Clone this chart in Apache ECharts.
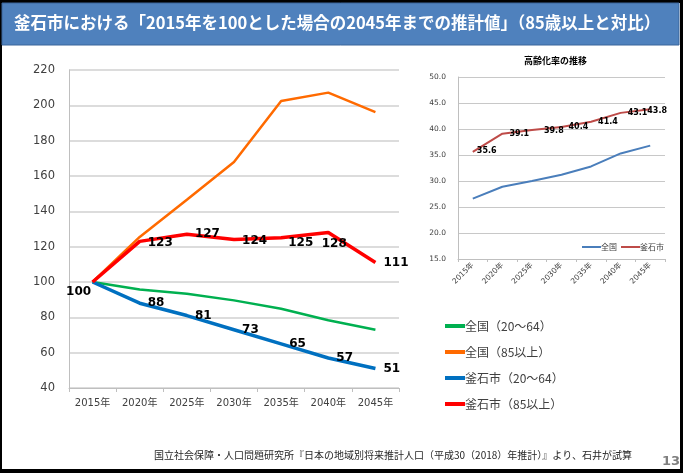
<!DOCTYPE html>
<html>
<head>
<meta charset="utf-8">
<script src="https://cdn.jsdelivr.net/npm/echarts@6/dist/echarts.min.js"></script>
<style>
html, body { margin: 0; padding: 0; background: #fff; }
#chart { width: 683px; height: 473px; }
</style>
</head>
<body>
<div id="chart"></div>
<script>
const years = ['2015年', '2020年', '2025年', '2030年', '2035年', '2040年', '2045年']

// index, 2015 = 100
const zenkokuWorking = [100, 95.7, 93.4, 89.6, 84.9, 78.3, 73.0]
const zenkokuOld = [100, 125.5, 146.6, 167.9, 202.5, 207.2, 196.2]
const kamaishiWorking = [100, 88, 81, 73, 65, 57, 51]
const kamaishiOld = [100, 123, 127, 124, 125, 128, 111]

// aging rate (%)
const agingZenkoku = [26.6, 28.9, 30.0, 31.2, 32.8, 35.3, 36.8]
const agingKamaishi = [35.6, 39.1, 39.8, 40.4, 41.4, 43.1, 43.8]

const titleText = '釜石市における「2015年を100とした場合の2045年までの推計値」（85歳以上と対比）'
const subTitle = '高齢化率の推移'
const sourceText = '国立社会保障・人口問題研究所『日本の地域別将来推計人口（平成30（2018）年推計）』より、石井が試算'

const font = '"DejaVu Sans", "Noto Sans CJK JP", sans-serif'
const jpFont = '"Noto Sans CJK JP", sans-serif'

const bigLabel = { show: true, position: 'right', distance: 8, color: '#000', fontWeight: 'bold', fontSize: 12, fontFamily: font }
const smallLabel = { show: true, position: 'right', distance: 7, color: '#000', fontWeight: 'bold', fontSize: 8, fontFamily: font }

function labelled(values, base, overrides) {
  return values.map((v, i) => {
    const o = overrides[i]
    if (o === null) return { value: v, label: { show: false } }
    return o ? { value: v, label: Object.assign({}, base, o) } : v
  })
}

const chart = echarts.init(document.getElementById('chart'), null, { renderer: 'canvas' })

chart.setOption({
  backgroundColor: '#000',
  animation: false,
  textStyle: { fontFamily: font },
  graphic: [
    { type: 'rect', z: -10, shape: { x: 2, y: 3, width: 678, height: 466 }, style: { fill: '#fff' } },
    { type: 'rect', z: -9, shape: { x: 2, y: 3, width: 677, height: 42 }, style: { fill: '#4f81bd', stroke: '#3a659a', lineWidth: 1 } },
    { type: 'text', left: 14, top: 14, style: { text: titleText, fill: '#fff', font: 'bold 16.5px ' + jpFont } },
    { type: 'text', left: 154, top: 450, style: { text: sourceText, fill: '#262626', font: '10px ' + jpFont } },
    { type: 'text', left: 662, top: 455, style: { text: '13', fill: '#7f7f7f', font: 'bold 13px ' + font } },
    { type: 'text', left: 524, top: 56, style: { text: subTitle, fill: '#000', font: 'bold 9px ' + jpFont } }
  ],
  legend: [
    {
      data: ['全国（20～64）', '全国（85以上）', '釜石市（20～64）', '釜石市（85以上）'],
      orient: 'vertical',
      left: 440,
      top: 314,
      itemGap: 12,
      itemWidth: 20,
      itemHeight: 4,
      icon: 'rect',
      textStyle: { fontSize: 12, color: '#404040', fontFamily: jpFont, lineHeight: 14, padding: [0, 0, 0, -5] }
    },
    {
      data: ['全国', '釜石市'],
      orient: 'horizontal',
      left: 577,
      top: 238,
      itemGap: 4,
      itemWidth: 19,
      itemHeight: 2,
      icon: 'rect',
      textStyle: { fontSize: 8, color: '#404040', fontFamily: jpFont, padding: [0, 0, 0, -5] }
    }
  ],
  grid: [
    { left: 69, right: 284, top: 70, bottom: 85 },
    { left: 458, right: 18, top: 77, bottom: 214 }
  ],
  xAxis: [
    {
      gridIndex: 0,
      type: 'category',
      data: years,
      boundaryGap: true,
      axisLine: { lineStyle: { color: '#bfbfbf' } },
      axisTick: { show: true, length: 4, lineStyle: { color: '#bfbfbf' } },
      axisLabel: { color: '#404040', fontSize: 10, margin: 10, fontFamily: font, interval: 0 }
    },
    {
      gridIndex: 1,
      type: 'category',
      data: years,
      boundaryGap: true,
      axisLine: { lineStyle: { color: '#bfbfbf' } },
      axisTick: { show: true, length: 3, lineStyle: { color: '#bfbfbf' } },
      axisLabel: { color: '#404040', fontSize: 7.5, rotate: 45, margin: 5, fontFamily: font, interval: 0 }
    }
  ],
  yAxis: [
    {
      gridIndex: 0,
      type: 'value',
      min: 40,
      max: 220,
      interval: 20,
      axisLine: { show: true, lineStyle: { color: '#bfbfbf' } },
      axisTick: { show: false },
      splitLine: { lineStyle: { color: '#d0d0d0', width: 1.5 } },
      axisLabel: { color: '#404040', fontSize: 11.5, margin: 14, fontFamily: font }
    },
    {
      gridIndex: 1,
      type: 'value',
      min: 15,
      max: 50,
      interval: 5,
      axisLine: { show: true, lineStyle: { color: '#bfbfbf' } },
      axisTick: { show: false },
      splitLine: { lineStyle: { color: '#c8c8c8', width: 1.2 } },
      axisLabel: { color: '#404040', fontSize: 7.5, margin: 12, fontFamily: font, formatter: (v) => v.toFixed(1) }
    }
  ],
  series: [
    {
      name: '全国（20～64）', type: 'line', xAxisIndex: 0, yAxisIndex: 0,
      data: zenkokuWorking, symbol: 'none',
      lineStyle: { color: '#00b050', width: 2.5 }, itemStyle: { color: '#00b050' }
    },
    {
      name: '全国（85以上）', type: 'line', xAxisIndex: 0, yAxisIndex: 0,
      data: zenkokuOld, symbol: 'none',
      lineStyle: { color: '#ff6a00', width: 2.5 }, itemStyle: { color: '#ff6a00' }
    },
    {
      name: '釜石市（20～64）', type: 'line', xAxisIndex: 0, yAxisIndex: 0,
      data: labelled(kamaishiWorking, bigLabel, [
        { position: 'bottom', distance: 4, offset: [-14, 0] }, {}, {}, {}, {}, {}, {}
      ]),
      symbol: 'circle', symbolSize: 0.1,
      label: { ...bigLabel, distance: 6 },
      lineStyle: { color: '#0070c0', width: 3.5 }, itemStyle: { color: '#0070c0' }
    },
    {
      name: '釜石市（85以上）', type: 'line', xAxisIndex: 0, yAxisIndex: 0,
      data: labelled(kamaishiOld, bigLabel, [
        null, { offset: [0, 2] }, {}, { offset: [0, 1] }, { offset: [-1, 5] }, { position: 'bottom', distance: 5, offset: [6, 0] }, {}
      ]),
      symbol: 'circle', symbolSize: 0.1,
      label: bigLabel,
      lineStyle: { color: '#ff0000', width: 3.5 }, itemStyle: { color: '#ff0000' }
    },
    {
      name: '全国', type: 'line', xAxisIndex: 1, yAxisIndex: 1,
      data: agingZenkoku, symbol: 'none',
      lineStyle: { color: '#4a7ebb', width: 2 }, itemStyle: { color: '#4a7ebb' }
    },
    {
      name: '釜石市', type: 'line', xAxisIndex: 1, yAxisIndex: 1,
      data: labelled(agingKamaishi, smallLabel, [
        { offset: [-3, -1] }, {}, { offset: [5, 1] }, {}, {}, {}, { distance: 0, offset: [-3, 2] }
      ]),
      symbol: 'circle', symbolSize: 0.1,
      label: smallLabel,
      lineStyle: { color: '#be4b48', width: 2 }, itemStyle: { color: '#be4b48' }
    }
  ]
})
</script>
</body>
</html>
